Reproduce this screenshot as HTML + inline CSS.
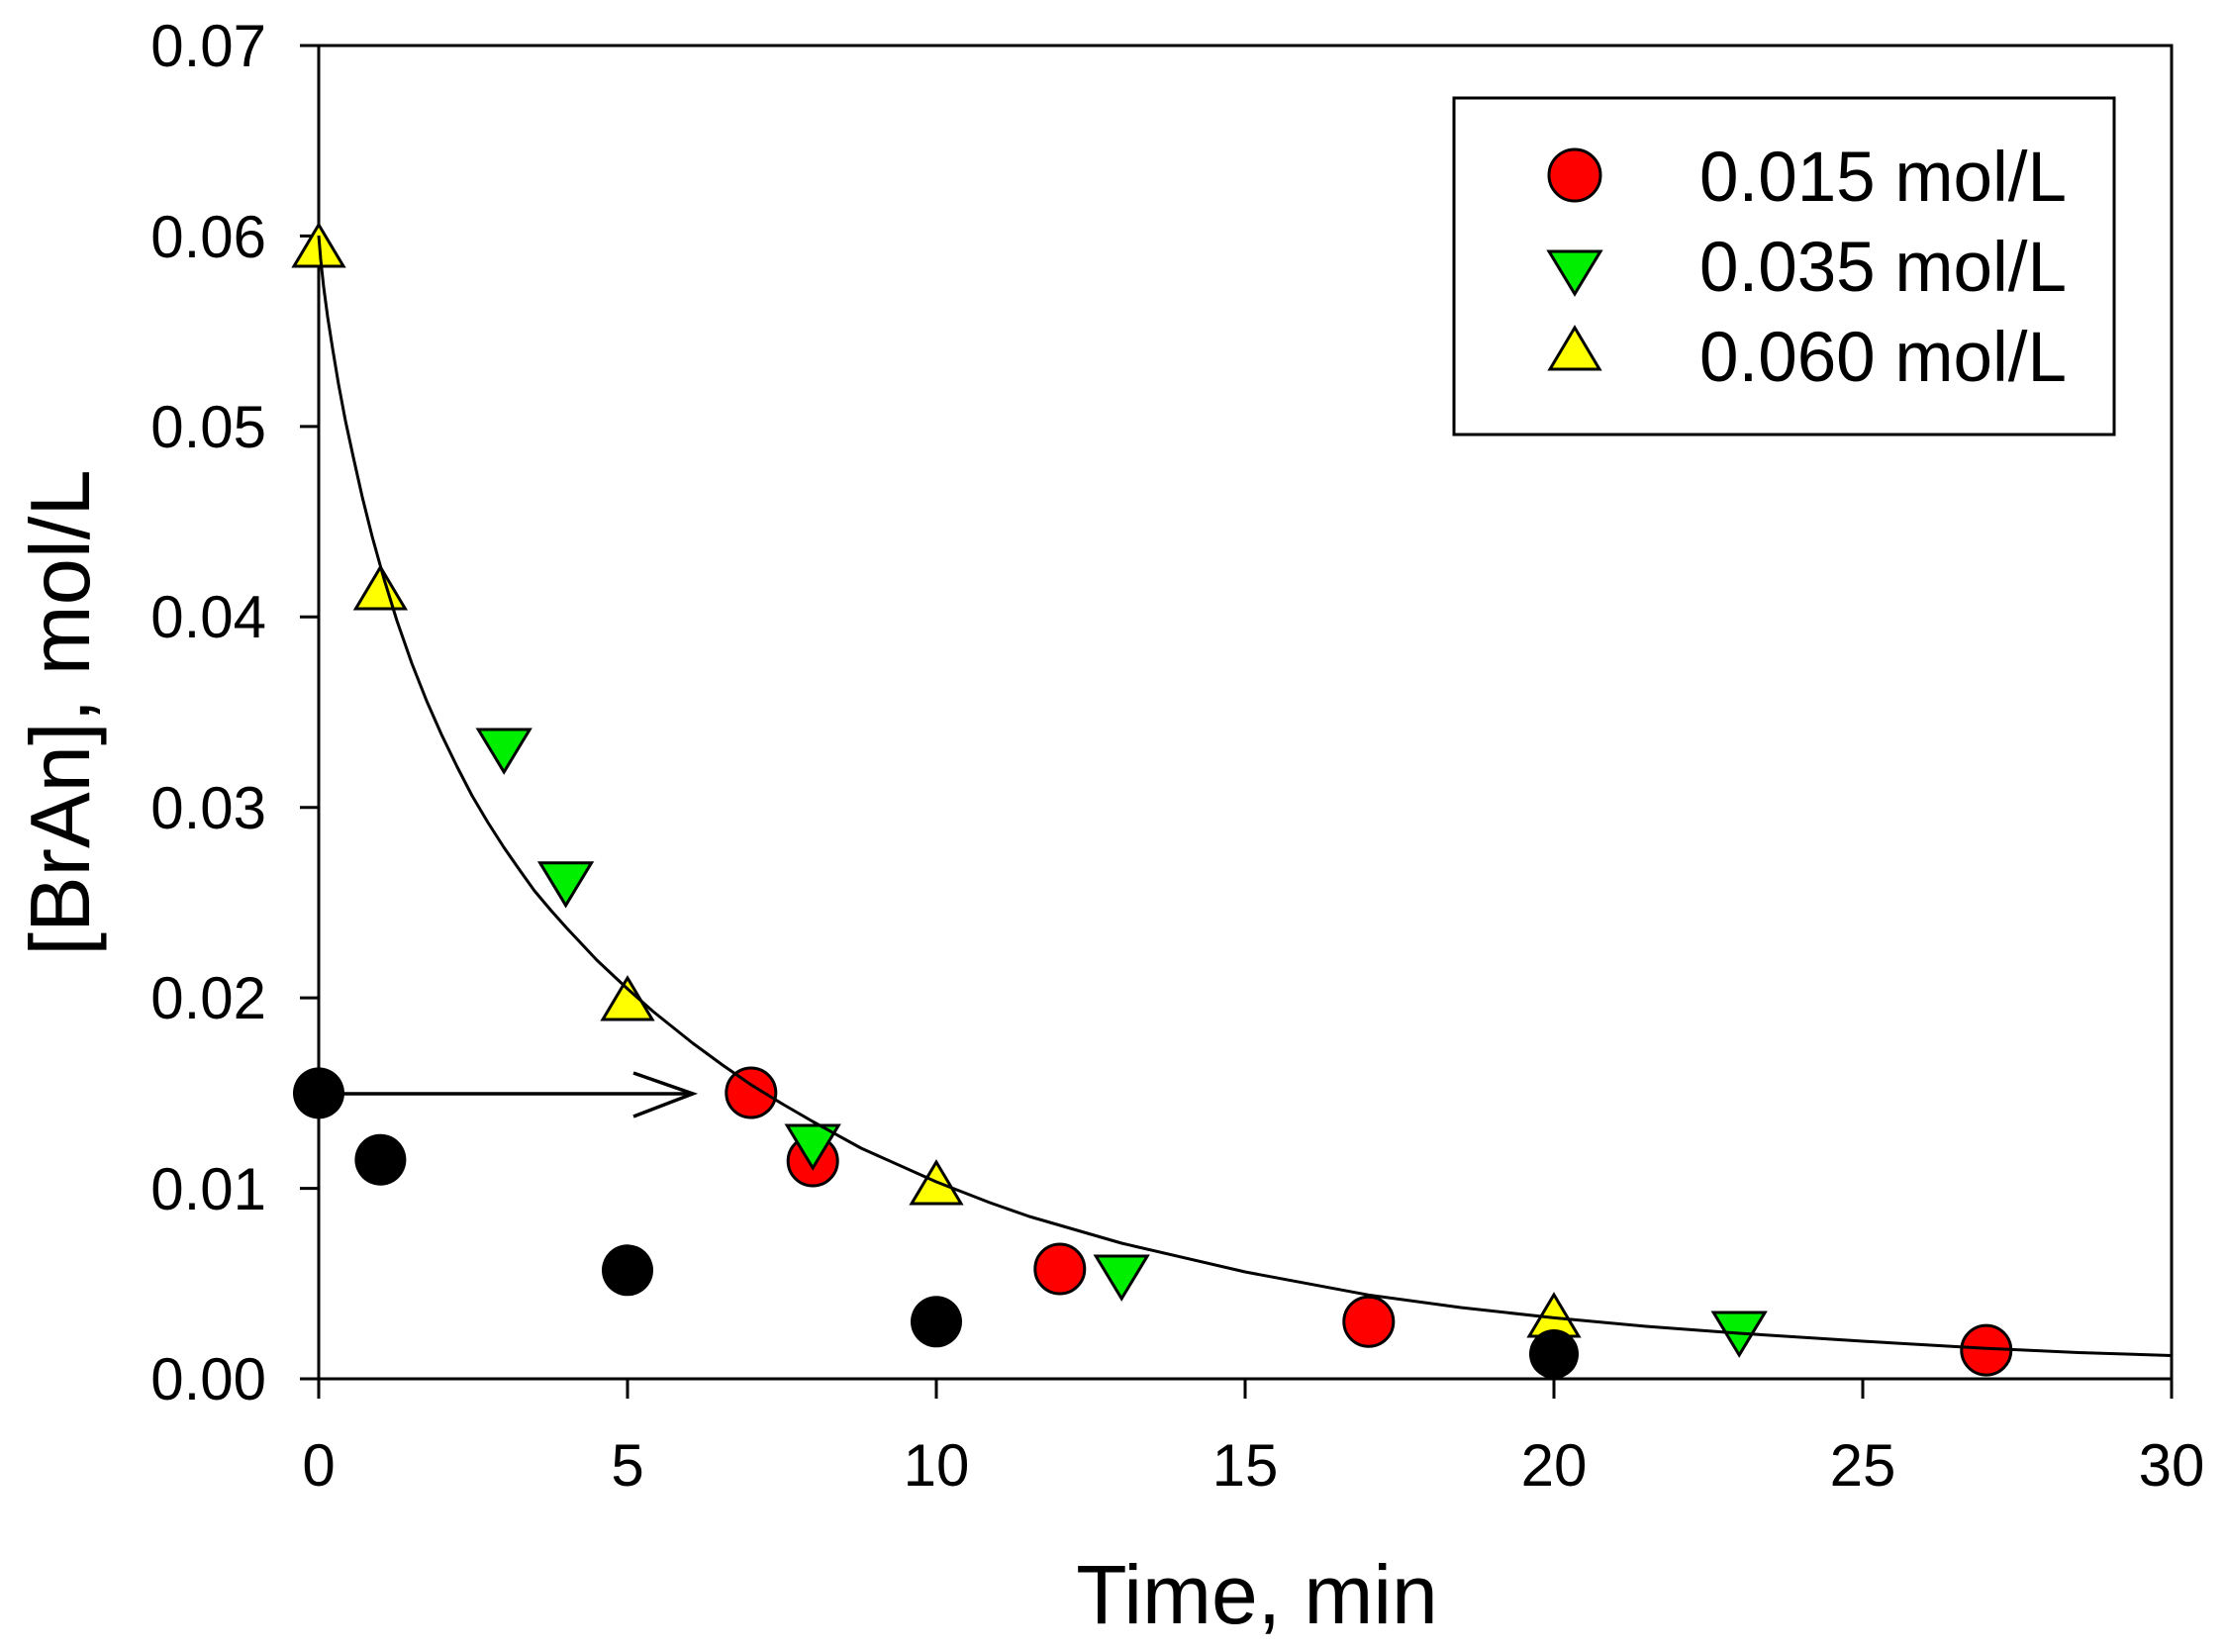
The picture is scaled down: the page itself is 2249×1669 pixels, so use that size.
<!DOCTYPE html>
<html><head><meta charset="utf-8"><style>
html,body{margin:0;padding:0;background:#fff;}
svg{display:block;}
text{font-family:"Liberation Sans",Arial,sans-serif;fill:#000;}
</style></head><body>
<svg width="2249" height="1669" viewBox="0 0 2249 1669" xmlns="http://www.w3.org/2000/svg">
<defs>
<polygon id="up" points="0,-21 -25,21 25,21" stroke="#000" stroke-width="3"/>
<polygon id="dn" points="-26,-21 26,-21 0,22" stroke="#000" stroke-width="3"/>
</defs>
<rect x="322" y="46" width="1872" height="1347" fill="none" stroke="#000" stroke-width="3"/>
<g stroke="#000" stroke-width="3">
<line x1="303" y1="1393" x2="322" y2="1393"/>
<line x1="303" y1="1200.6" x2="322" y2="1200.6"/>
<line x1="303" y1="1008.1" x2="322" y2="1008.1"/>
<line x1="303" y1="815.7" x2="322" y2="815.7"/>
<line x1="303" y1="623.3" x2="322" y2="623.3"/>
<line x1="303" y1="430.9" x2="322" y2="430.9"/>
<line x1="303" y1="238.4" x2="322" y2="238.4"/>
<line x1="303" y1="46" x2="322" y2="46"/>
<line x1="322" y1="1393" x2="322" y2="1413"/>
<line x1="634" y1="1393" x2="634" y2="1413"/>
<line x1="946" y1="1393" x2="946" y2="1413"/>
<line x1="1258" y1="1393" x2="1258" y2="1413"/>
<line x1="1570" y1="1393" x2="1570" y2="1413"/>
<line x1="1882" y1="1393" x2="1882" y2="1413"/>
<line x1="2194" y1="1393" x2="2194" y2="1413"/>
</g>
<g font-size="60" text-anchor="end">
<text x="269" y="1414">0.00</text>
<text x="269" y="1222">0.01</text>
<text x="269" y="1029">0.02</text>
<text x="269" y="837">0.03</text>
<text x="269" y="644">0.04</text>
<text x="269" y="452">0.05</text>
<text x="269" y="260">0.06</text>
<text x="269" y="67">0.07</text>
</g>
<g font-size="60" text-anchor="middle">
<text x="322" y="1501">0</text>
<text x="634" y="1501">5</text>
<text x="946" y="1501">10</text>
<text x="1258" y="1501">15</text>
<text x="1570" y="1501">20</text>
<text x="1882" y="1501">25</text>
<text x="2194" y="1501">30</text>
</g>
<text x="1270" y="1640" font-size="84" text-anchor="middle">Time, min</text>
<text transform="translate(90,720) rotate(-90)" font-size="85" text-anchor="middle">[BrAn], mol/L</text>
<g fill="#000">
<circle cx="322" cy="1104.4" r="26"/>
<circle cx="384.4" cy="1171.7" r="26"/>
<circle cx="634" cy="1283.3" r="26"/>
<circle cx="946" cy="1335.3" r="26"/>
</g>
<g stroke="#000" stroke-width="3.5" fill="none">
<line x1="322" y1="1105" x2="700" y2="1105"/>
<polyline points="640,1084 700,1105 640,1128"/>
</g>
<g fill="#ff0000" stroke="#000" stroke-width="3">
<circle cx="758.8" cy="1104" r="25"/>
<circle cx="821.2" cy="1173" r="25"/>
<circle cx="1070.8" cy="1282" r="25"/>
<circle cx="1382.8" cy="1335.3" r="25"/>
<circle cx="2006.8" cy="1364.1" r="25"/>
</g>
<g fill="#00ee00">
<use href="#dn" x="509.2" y="758"/>
<use href="#dn" x="571.6" y="892.7"/>
<use href="#dn" x="821.2" y="1158"/>
<use href="#dn" x="1133.2" y="1290"/>
<use href="#dn" x="1757.2" y="1347"/>
</g>
<g fill="#ffff00">
<use href="#up" x="322" y="248"/>
<use href="#up" x="384.4" y="594"/>
<use href="#up" x="634" y="1009"/>
<use href="#up" x="946" y="1195"/>
<use href="#up" x="1570" y="1329"/>
</g>
<circle cx="1570" cy="1368" r="25" fill="#000"/>
<polyline fill="none" stroke="#000" stroke-width="3" stroke-linejoin="round" points="322,238 324,262 327,290 331,320 336,352 342,388 349,425 357,462 366,502 376,542 388,585 401,627 416,670 431,708 446,742 462,775 477,804 493,831 509,856 525,879 540,900 556,919 572,937 588,954 603,970 619,985 634,999 660,1022 700,1054 730,1076 759,1096 790,1115 821,1133 870,1160 946,1194 1000,1215 1040,1229 1133.2,1256 1258,1285 1382.8,1308.3 1476,1321 1570,1331.4 1663,1340 1757.2,1347 1882,1355 2006.8,1362.2 2100,1366.5 2194,1369.5"/>
<rect x="1469" y="99" width="667" height="340" fill="#fff" stroke="#000" stroke-width="3"/>
<circle cx="1591" cy="177" r="26" fill="#ff0000" stroke="#000" stroke-width="3"/>
<use href="#dn" x="1591" y="275" fill="#00ee00"/>
<use href="#up" x="1591" y="352" fill="#ffff00"/>
<g font-size="71">
<text x="1717" y="203">0.015 mol/L</text>
<text x="1717" y="294">0.035 mol/L</text>
<text x="1717" y="385">0.060 mol/L</text>
</g>
</svg>
</body></html>
